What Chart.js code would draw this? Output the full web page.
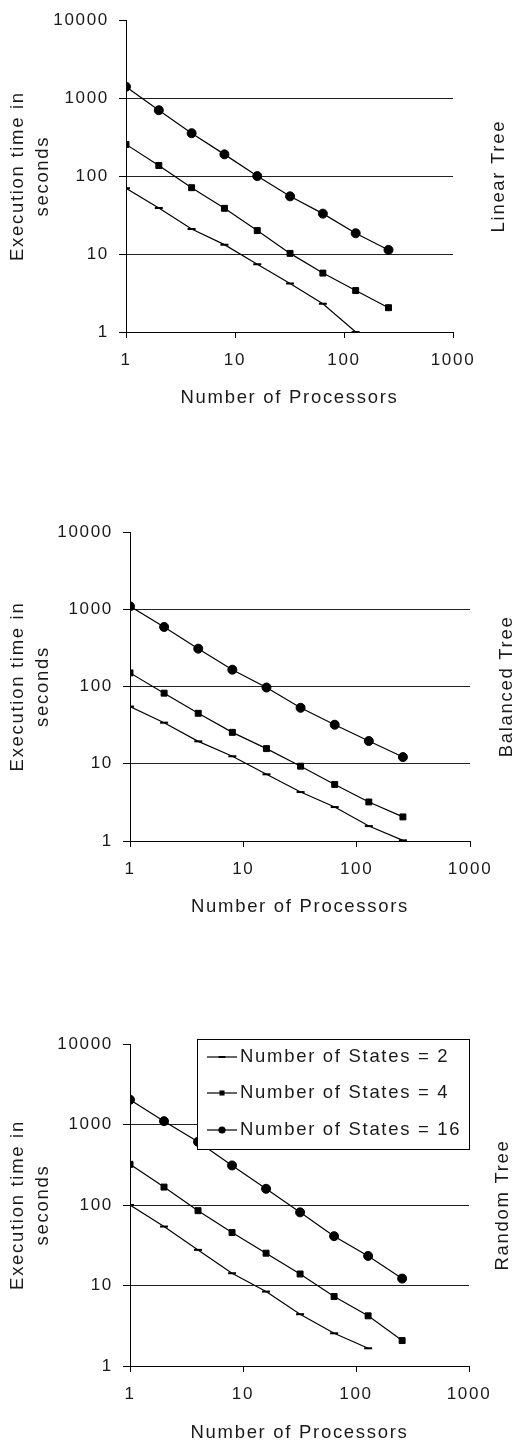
<!DOCTYPE html>
<html>
<head>
<meta charset="utf-8">
<script src="https://cdn.jsdelivr.net/npm/chart.js@4.4.1/dist/chart.umd.min.js"></script>
<style>
  body { margin: 0; background: #fff; }
  .panel { position: absolute; left: 0; width: 514px; }
</style>
</head>
<body>
<div class="panel" style="top:0px"><canvas id="linearChart" width="514" height="420"></canvas></div>
<div class="panel" style="top:480px"><canvas id="balancedChart" width="514" height="450"></canvas></div>
<div class="panel" style="top:960px"><canvas id="randomChart" width="514" height="486"></canvas></div>
<script>
// data
const processors = [1, 2, 4, 8, 16, 32, 64, 128, 256];
const xTicks = [1, 10, 100, 1000];
const yTicks = [1, 10, 100, 1000, 10000];
const seriesLabels = ['Number of States = 2', 'Number of States = 4', 'Number of States = 16'];
const treeTitles = ['Linear Tree', 'Balanced Tree', 'Random Tree'];

const linearStates2 = [70, 39, 21, 13.2, 7.4, 4.2, 2.3, 1.0];
const linearStates4 = [255, 137, 71, 38.6, 20, 10.2, 5.7, 3.4, 2.05];
const linearStates16 = [1400, 700, 355, 190, 100, 55, 33, 18.5, 11.3];

const balancedStates2 = [55, 34, 19.5, 12.5, 7.3, 4.3, 2.75, 1.56, 1.02];
const balancedStates4 = [150, 82, 45, 25.5, 15.7, 9.3, 5.4, 3.2, 2.05];
const balancedStates16 = [1090, 590, 309, 165, 97, 53, 32, 19.7, 12.2];

const randomStates2 = [100, 54, 27.7, 14.2, 8.4, 4.4, 2.55, 1.66];
const randomStates4 = [320, 167, 85, 45.5, 25.2, 13.9, 7.3, 4.2, 2.07];
const randomStates16 = [2030, 1100, 610, 310, 159, 81, 41, 23.3, 12.2];

// styling
const FONT = "'Liberation Sans', Arial, sans-serif";
const SPACING = '1.7px';
const INK = '#000';
const TEXT = '#1a1a1a';

const markers = [
  { pointStyle: 'line', pointRadius: 4, pointBorderWidth: 2 },
  { pointStyle: 'rect', pointRadius: 4.2, pointBorderWidth: 1 },
  { pointStyle: 'circle', pointRadius: 4.5, pointBorderWidth: 1 }
];

const panels = [
  { id: 'linearChart', h: 420, left: 126, right: 453, top: 17.5, bottom: 332, side: 499, titlePad: 10.9,
    series: [linearStates2, linearStates4, linearStates16], title: treeTitles[0] },
  { id: 'balancedChart', h: 450, left: 130, right: 470, top: 52, bottom: 361, side: 507, titlePad: 11.9,
    series: [balancedStates2, balancedStates4, balancedStates16], title: treeTitles[1] },
  { id: 'randomChart', h: 486, left: 130, right: 469, top: 84, bottom: 406, side: 503, titlePad: 1.9,
    series: [randomStates2, randomStates4, randomStates16], title: treeTitles[2], legend: true }
];

function toPoints(values) {
  return values.map((v, i) => ({ x: processors[i], y: v }));
}

function drawMarker(ctx, m, x, y, r) {
  ctx.beginPath();
  if (m.pointStyle === 'circle') {
    ctx.arc(x, y, r, 0, Math.PI * 2);
    ctx.fill();
  } else if (m.pointStyle === 'rect') {
    const s = r * Math.SQRT1_2;
    ctx.fillRect(x - s, y - s, 2 * s, 2 * s);
  } else {
    ctx.lineWidth = m.pointBorderWidth;
    ctx.moveTo(x - r, y);
    ctx.lineTo(x + r, y);
    ctx.stroke();
  }
}

// canvas letter spacing, the picture's text is wide
const spacing = {
  id: 'spacing',
  beforeUpdate(chart) { chart.ctx.letterSpacing = SPACING; },
  beforeDraw(chart) { chart.ctx.letterSpacing = SPACING; }
};

// rotated label on the right side
const sideTitle = {
  id: 'sideTitle',
  afterDraw(chart, args, opts) {
    const ctx = chart.ctx, a = chart.chartArea;
    ctx.save();
    ctx.translate(opts.x, (a.top + a.bottom) / 2);
    ctx.rotate(-Math.PI / 2);
    ctx.font = '18.5px ' + FONT;
    ctx.fillStyle = TEXT;
    ctx.textAlign = 'center';
    ctx.textBaseline = 'middle';
    ctx.fillText(opts.text, 0, 0);
    ctx.restore();
  }
};

// boxed legend drawn over the data
const boxLegend = {
  id: 'boxLegend',
  afterDatasetsDraw(chart, args, o) {
    if (!o.show) return;
    const ctx = chart.ctx;
    ctx.save();
    ctx.fillStyle = '#fff';
    ctx.fillRect(o.left, o.top, o.right - o.left, o.bottom - o.top);
    ctx.strokeStyle = '#000';
    ctx.lineWidth = 1;
    ctx.strokeRect(o.left + 0.5, o.top + 0.5, o.right - o.left, o.bottom - o.top);
    ctx.font = '18.5px ' + FONT;
    ctx.textBaseline = 'middle';
    ctx.textAlign = 'left';
    chart.data.datasets.forEach((ds, i) => {
      const y = o.rows[i];
      ctx.strokeStyle = INK;
      ctx.fillStyle = INK;
      ctx.lineWidth = 1.2;
      ctx.beginPath();
      ctx.moveTo(o.sampleX0, y);
      ctx.lineTo(o.sampleX1, y);
      ctx.stroke();
      drawMarker(ctx, markers[i], (o.sampleX0 + o.sampleX1) / 2, y, i === 2 ? 3.6 : markers[i].pointRadius * 0.85);
      ctx.fillStyle = TEXT;
      ctx.fillText(ds.label, o.textX, y);
    });
    ctx.restore();
  }
};

panels.forEach(p => {
  const datasets = p.series.map((vals, i) => Object.assign({
    label: seriesLabels[i],
    data: toPoints(vals),
    borderColor: INK,
    backgroundColor: INK,
    pointBackgroundColor: INK,
    pointBorderColor: INK,
    borderWidth: 1.2,
    tension: 0
  }, markers[i]));

  new Chart(document.getElementById(p.id), {
    type: 'line',
    data: { datasets: datasets },
    plugins: [spacing, sideTitle, boxLegend],
    options: {
      responsive: false,
      animation: false,
      events: [],
      layout: { padding: { left: 0, top: p.top, right: 514 - p.right, bottom: 0 } },
      plugins: {
        legend: { display: false },
        tooltip: { enabled: false },
        sideTitle: { text: p.title, x: p.side },
        boxLegend: { show: !!p.legend, left: 197, right: 469, top: 79, bottom: 189,
          rows: [97, 133, 170], sampleX0: 207, sampleX1: 237, textX: 240 }
      },
      scales: {
        x: {
          type: 'logarithmic', min: 1, max: 1000,
          afterBuildTicks: s => { s.ticks = xTicks.map(v => ({ value: v })); },
          afterFit: s => { s.height = p.h - p.bottom; },
          ticks: { callback: v => String(v), font: { family: FONT, size: 17 }, color: TEXT,
            padding: 12, autoSkip: false, maxRotation: 0 },
          grid: { drawOnChartArea: false, tickLength: 6, color: '#000' },
          border: { color: '#000', width: 1 },
          title: { display: true, text: 'Number of Processors', color: TEXT,
            font: { family: FONT, size: 18.5, lineHeight: 1.2 },
            padding: { top: 0, bottom: p.titlePad } }
        },
        y: {
          type: 'logarithmic', min: 1, max: 10000,
          afterBuildTicks: s => { s.ticks = yTicks.map(v => ({ value: v })); },
          afterFit: s => { s.width = p.left; },
          ticks: { callback: v => String(v), font: { family: FONT, size: 17 }, color: TEXT,
            padding: 10, autoSkip: false },
          grid: { color: c => (c.tick && c.tick.value === 10000) ? 'rgba(0,0,0,0)' : '#222',
            tickColor: '#000', tickLength: 7 },
          border: { color: '#000', width: 1 },
          title: { display: true, text: ['Execution time in', 'seconds'], color: TEXT,
            font: { family: FONT, size: 18.5, lineHeight: 1.4 },
            padding: { top: 4.5, bottom: 0 } }
        }
      }
    }
  });
});
</script>
</body>
</html>
